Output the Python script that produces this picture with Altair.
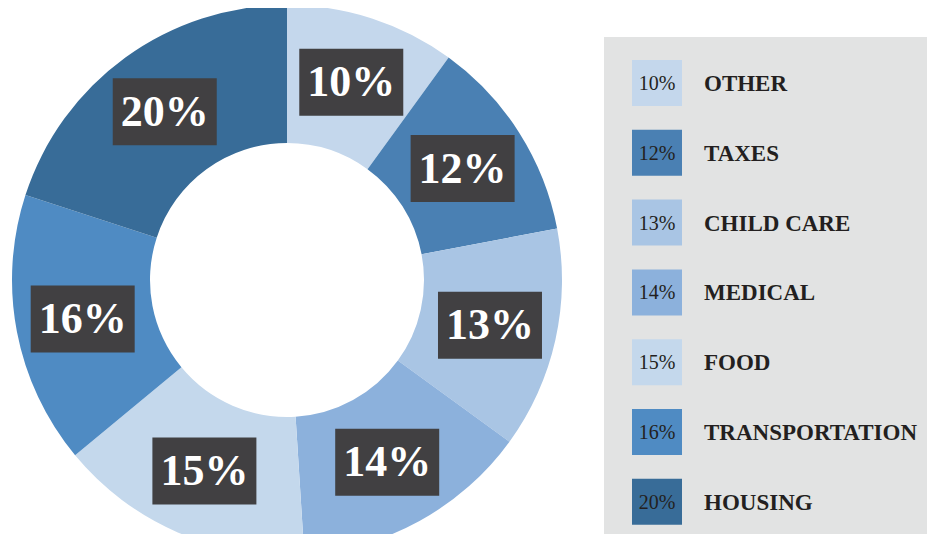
import altair as alt
import pandas as pd

categories = ["OTHER", "TAXES", "CHILD CARE", "MEDICAL", "FOOD", "TRANSPORTATION", "HOUSING"]
values = [10, 12, 13, 14, 15, 16, 20]
colors = ["#c4d7ec", "#4a80b3", "#a9c5e4", "#8cb1dc", "#c4d8ec", "#4f8bc3", "#386c98"]

df = pd.DataFrame({"cat": categories, "value": values, "idx": list(range(len(values)))})
df["pct"] = [f"{v}%" for v in values]

W, H = 919, 526
CX, CY = 279, 272
R_IN, R_OUT = 137, 275
R_LAB = 208
BW, BH = 104, 67

base = alt.Chart(df)
color = alt.Color("cat:N", scale=alt.Scale(domain=categories, range=colors), legend=None)

arcs = base.mark_arc(innerRadius=R_IN, outerRadius=R_OUT).encode(
    theta=alt.Theta("value:Q", stack=True),
    order=alt.Order("idx:Q"),
    color=color,
    x=alt.value(CX),
    y=alt.value(CY),
)

pos = base.transform_window(
    cum="sum(value)", sort=[alt.SortField("idx")], frame=[None, 0]
).transform_calculate(
    ang="2*PI*(datum.cum - datum.value/2)/100"
).transform_calculate(
    bx=f"{CX} + {R_LAB}*sin(datum.ang)",
    by=f"{CY} - {R_LAB}*cos(datum.ang)",
).transform_calculate(
    bx1=f"datum.bx - {BW/2}", bx2=f"datum.bx + {BW/2}",
    by1=f"datum.by - {BH/2}", by2=f"datum.by + {BH/2}",
)

boxes = pos.mark_rect(color="#414042").encode(
    x=alt.X("bx1:Q", scale=None, axis=None), x2="bx2:Q",
    y=alt.Y("by1:Q", scale=None, axis=None), y2="by2:Q",
)
box_text = pos.mark_text(
    font="Liberation Serif", fontWeight="bold", fontSize=44, color="white",
    baseline="middle", align="center", dy=1,
).encode(
    x=alt.X("bx:Q", scale=None, axis=None),
    y=alt.Y("by:Q", scale=None, axis=None),
    text="pct:N",
)

panel = alt.Chart(alt.Data(values=[{"a": 0}])).mark_rect(color="#e2e3e3").encode(
    x=alt.value(596), x2=alt.value(W), y=alt.value(29), y2=alt.value(H)
)

leg = base.transform_calculate(
    ly="75 + datum.idx*69.8"
).transform_calculate(
    ly1="datum.ly - 23", ly2="datum.ly + 23"
)
swatches = leg.mark_rect().encode(
    x=alt.value(624), x2=alt.value(674),
    y=alt.Y("ly1:Q", scale=None, axis=None), y2="ly2:Q",
    color=color,
)
sw_text = leg.mark_text(
    font="Liberation Serif", fontSize=20, color="#231f20", align="center", baseline="middle", dy=1
).encode(
    x=alt.value(649), y=alt.Y("ly:Q", scale=None, axis=None), text="pct:N"
)
leg_labels = leg.mark_text(
    font="Liberation Serif", fontWeight="bold", fontSize=23, color="#231f20", align="left", baseline="middle", dy=1
).encode(
    x=alt.value(696), y=alt.Y("ly:Q", scale=None, axis=None), text="cat:N"
)

chart = alt.layer(arcs, boxes, box_text, panel, swatches, sw_text, leg_labels).properties(
    width=W, height=H, padding=0, background="white",
    autosize=alt.AutoSizeParams(type="none"),
).configure_view(stroke=None)

chart.save("out.html", embed_options={"renderer": "svg", "actions": False})
